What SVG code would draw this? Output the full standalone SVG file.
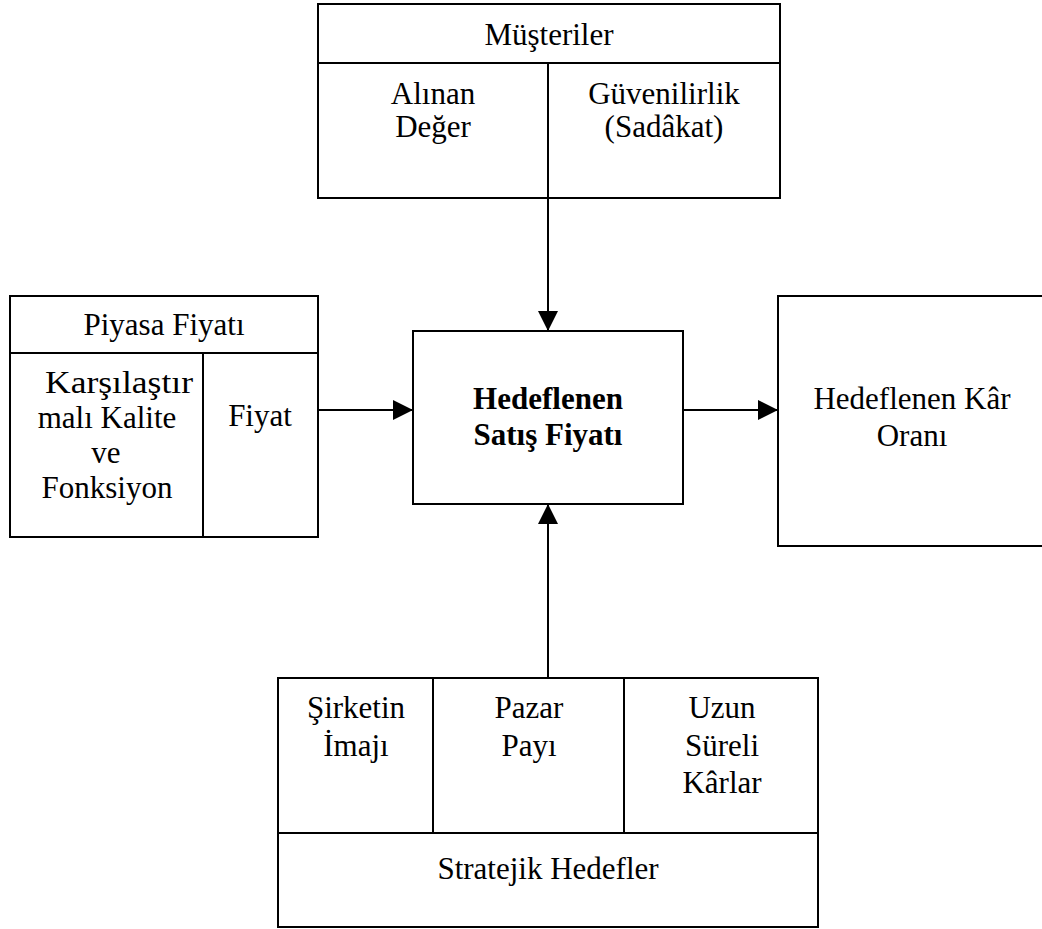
<svg xmlns="http://www.w3.org/2000/svg" width="1042" height="929" viewBox="0 0 1042 929">
  <style>
    .box { fill: #fff; stroke: #000; stroke-width: 2; }
    .rule { stroke: #000; stroke-width: 2; fill: none; }
    text { font-family: 'Liberation Serif', 'DejaVu Serif', serif; font-size: 31px; fill: #000; text-anchor: middle; }
    .b { font-weight: bold; }
    .edge { stroke: #000; stroke-width: 2; fill: none; marker-end: url(#head); }
  </style>
  <defs>
    <marker id="head" viewBox="0 0 20 20" refX="20" refY="10" markerWidth="20" markerHeight="20" markerUnits="userSpaceOnUse" orient="auto">
      <path d="M0,0 L20,10 L0,20 Z" fill="#000"/>
    </marker>
  </defs>
  <rect width="1042" height="929" fill="#fff"/>

  <!-- Customers -->
  <g id="musteriler">
    <rect class="box" x="318" y="4" width="462" height="194"/>
    <line class="rule" x1="318" y1="63" x2="780" y2="63"/>
    <line class="rule" x1="548" y1="63" x2="548" y2="198"/>
    <text x="549" y="45">Müşteriler</text>
    <text x="433" y="104">Alınan</text>
    <text x="433" y="137">Değer</text>
    <text x="664" y="104">Güvenilirlik</text>
    <text x="664" y="137">(Sadâkat)</text>
  </g>

  <!-- Market price -->
  <g id="piyasa-fiyati">
    <rect class="box" x="10" y="296" width="308" height="241"/>
    <line class="rule" x1="10" y1="353" x2="318" y2="353"/>
    <line class="rule" x1="203" y1="353" x2="203" y2="537"/>
    <text x="164" y="335">Piyasa Fiyatı</text>
    <text x="119" y="393" textLength="148" lengthAdjust="spacingAndGlyphs">Karşılaştır</text>
    <text x="107" y="428">malı Kalite</text>
    <text x="106" y="463">ve</text>
    <text x="107" y="498">Fonksiyon</text>
    <text x="260" y="426">Fiyat</text>
  </g>

  <!-- Target selling price -->
  <g id="hedeflenen-satis-fiyati">
    <rect class="box" x="413" y="331" width="270" height="173"/>
    <text class="b" x="548" y="409">Hedeflenen</text>
    <text class="b" x="548" y="445">Satış Fiyatı</text>
  </g>

  <!-- Target profit ratio -->
  <g id="hedeflenen-kar-orani">
    <rect class="box" x="778" y="296" width="274" height="250"/>
    <text x="912" y="409">Hedeflenen Kâr</text>
    <text x="912" y="446">Oranı</text>
  </g>

  <!-- Strategic goals -->
  <g id="stratejik-hedefler">
    <rect class="box" x="278" y="678" width="540" height="249"/>
    <line class="rule" x1="278" y1="833" x2="818" y2="833"/>
    <line class="rule" x1="433" y1="678" x2="433" y2="833"/>
    <line class="rule" x1="624" y1="678" x2="624" y2="833"/>
    <text x="356" y="718">Şirketin</text>
    <text x="356" y="756">İmajı</text>
    <text x="529" y="718">Pazar</text>
    <text x="529" y="756">Payı</text>
    <text x="722" y="718">Uzun</text>
    <text x="722" y="756">Süreli</text>
    <text x="722" y="793">Kârlar</text>
    <text x="548" y="879">Stratejik Hedefler</text>
  </g>

  <!-- Connectors -->
  <g id="connectors">
    <line class="edge" x1="548" y1="198" x2="548" y2="331"/>
    <line class="edge" x1="318" y1="410" x2="413" y2="410"/>
    <line class="edge" x1="683" y1="410" x2="778" y2="410"/>
    <line class="edge" x1="548" y1="678" x2="548" y2="504"/>
  </g>
</svg>
